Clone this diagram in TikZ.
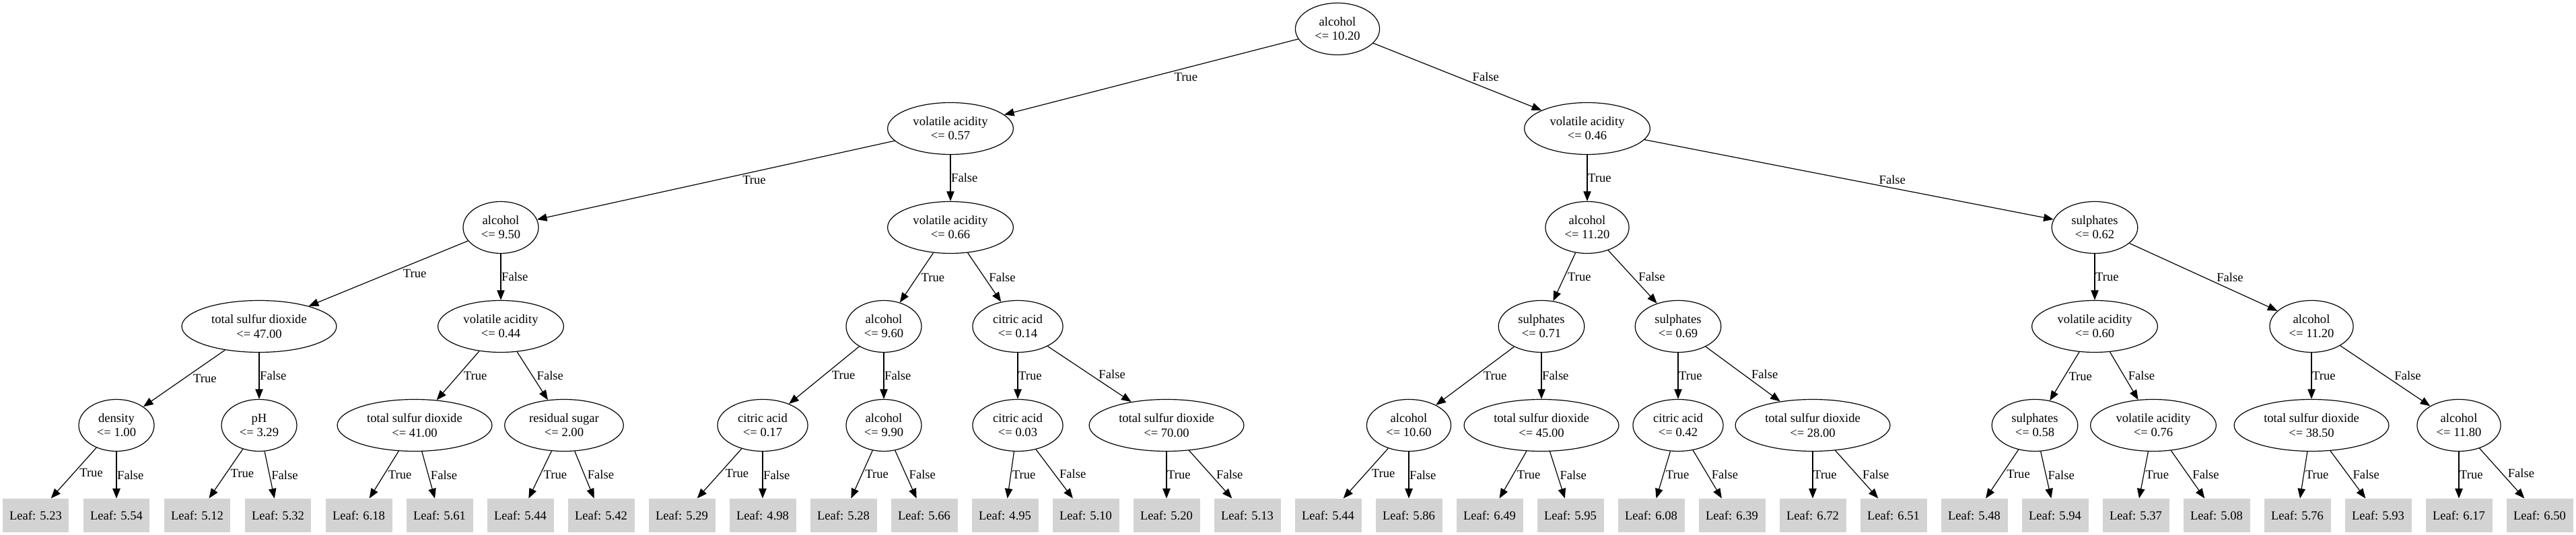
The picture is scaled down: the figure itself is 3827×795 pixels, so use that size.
\documentclass[tikz,border=0pt]{standalone}
\usepackage{fontspec}
\setmainfont{Liberation Serif}
\usetikzlibrary{shapes.geometric,arrows.meta,calc}
\definecolor{leafgray}{HTML}{D3D3D3}
\newcommand\nodefont{\fontsize{9.3}{10.6}\selectfont}
\newcommand\edge[3]{%
  \draw[arr] (#1) -- coordinate[pos=0.5] (m) (#2);
  \path let \p1=(#1.center), \p2=(#2.center), \n1={abs((\x2-\x1)/(\y2-\y1))} in
    node[lbl,anchor=west] at ([xshift={\n1*4.25pt+0.4pt}]m) {#3};
}
\begin{document}
\begin{tikzpicture}[x=0.5pt,y=-0.5pt,
  split/.style={ellipse, draw, line width=0.6pt, inner xsep=5.25pt, inner ysep=1pt,
    minimum height=38.5pt, align=center, font=\nodefont},
  leaf/.style={rectangle, fill=leafgray, draw=none, inner xsep=5.25pt, inner ysep=1pt,
    minimum height=25pt, font=\nodefont},
  arr/.style={line width=0.6pt, -{Triangle[length=7.3pt,width=5.7pt]}},
  lbl/.style={font=\nodefont, inner sep=0pt}]
\useasboundingbox (0,0) rectangle (3827,795);
% level 0
\node[split] (r) at (1987,43) {alcohol\\<= 10.20};
% level 1
\node[split] (a) at (1412,191) {volatile acidity\\<= 0.57};
\node[split] (b) at (2358,191) {volatile acidity\\<= 0.46};
% level 2
\node[split] (aa) at (744,338) {alcohol\\<= 9.50};
\node[split] (ab) at (1412,338) {volatile acidity\\<= 0.66};
\node[split] (ba) at (2358,338) {alcohol\\<= 11.20};
\node[split] (bb) at (3112,338) {sulphates\\<= 0.62};
% level 3
\node[split] (aaa) at (385,485) {total sulfur dioxide\\<= 47.00};
\node[split] (aab) at (744,485) {volatile acidity\\<= 0.44};
\node[split] (aba) at (1313,485) {alcohol\\<= 9.60};
\node[split] (abb) at (1512,485) {citric acid\\<= 0.14};
\node[split] (baa) at (2290,485) {sulphates\\<= 0.71};
\node[split] (bab) at (2493,485) {sulphates\\<= 0.69};
\node[split] (bba) at (3112,485) {volatile acidity\\<= 0.60};
\node[split] (bbb) at (3434,485) {alcohol\\<= 11.20};
% level 4
\node[split] (d0) at (173,632) {density\\<= 1.00};
\node[split] (d1) at (385,632) {pH\\<= 3.29};
\node[split] (d2) at (616,632) {total sulfur dioxide\\<= 41.00};
\node[split] (d3) at (838,632) {residual sugar\\<= 2.00};
\node[split] (d4) at (1133,632) {citric acid\\<= 0.17};
\node[split] (d5) at (1313,632) {alcohol\\<= 9.90};
\node[split] (d6) at (1512,632) {citric acid\\<= 0.03};
\node[split] (d7) at (1733,632) {total sulfur dioxide\\<= 70.00};
\node[split] (d8) at (2093,632) {alcohol\\<= 10.60};
\node[split] (d9) at (2290,632) {total sulfur dioxide\\<= 45.00};
\node[split] (d10) at (2493,632) {citric acid\\<= 0.42};
\node[split] (d11) at (2693,632) {total sulfur dioxide\\<= 28.00};
\node[split] (d12) at (3023,632) {sulphates\\<= 0.58};
\node[split] (d13) at (3199,632) {volatile acidity\\<= 0.76};
\node[split] (d14) at (3434,632) {total sulfur dioxide\\<= 38.50};
\node[split] (d15) at (3653,632) {alcohol\\<= 11.80};
% leaves
\foreach \v [count=\i from 0] in {5.23,5.54,5.12,5.32,6.18,5.61,5.44,5.42,5.29,4.98,5.28,5.66,4.95,5.10,5.20,5.13,5.44,5.86,6.49,5.95,6.08,6.39,6.72,6.51,5.48,5.94,5.37,5.08,5.76,5.93,6.17,6.50}
  \node[leaf] (l\i) at ({53+120*\i},766) {Leaf: \v};
% edges
\edge{r}{a}{True} \edge{r}{b}{False}
\edge{a}{aa}{True} \edge{a}{ab}{False}
\edge{b}{ba}{True} \edge{b}{bb}{False}
\edge{aa}{aaa}{True} \edge{aa}{aab}{False}
\edge{ab}{aba}{True} \edge{ab}{abb}{False}
\edge{ba}{baa}{True} \edge{ba}{bab}{False}
\edge{bb}{bba}{True} \edge{bb}{bbb}{False}
\edge{aaa}{d0}{True} \edge{aaa}{d1}{False}
\edge{aab}{d2}{True} \edge{aab}{d3}{False}
\edge{aba}{d4}{True} \edge{aba}{d5}{False}
\edge{abb}{d6}{True} \edge{abb}{d7}{False}
\edge{baa}{d8}{True} \edge{baa}{d9}{False}
\edge{bab}{d10}{True} \edge{bab}{d11}{False}
\edge{bba}{d12}{True} \edge{bba}{d13}{False}
\edge{bbb}{d14}{True} \edge{bbb}{d15}{False}
\edge{d0}{l0}{True} \edge{d0}{l1}{False}
\edge{d1}{l2}{True} \edge{d1}{l3}{False}
\edge{d2}{l4}{True} \edge{d2}{l5}{False}
\edge{d3}{l6}{True} \edge{d3}{l7}{False}
\edge{d4}{l8}{True} \edge{d4}{l9}{False}
\edge{d5}{l10}{True} \edge{d5}{l11}{False}
\edge{d6}{l12}{True} \edge{d6}{l13}{False}
\edge{d7}{l14}{True} \edge{d7}{l15}{False}
\edge{d8}{l16}{True} \edge{d8}{l17}{False}
\edge{d9}{l18}{True} \edge{d9}{l19}{False}
\edge{d10}{l20}{True} \edge{d10}{l21}{False}
\edge{d11}{l22}{True} \edge{d11}{l23}{False}
\edge{d12}{l24}{True} \edge{d12}{l25}{False}
\edge{d13}{l26}{True} \edge{d13}{l27}{False}
\edge{d14}{l28}{True} \edge{d14}{l29}{False}
\edge{d15}{l30}{True} \edge{d15}{l31}{False}
\end{tikzpicture}
\end{document}
